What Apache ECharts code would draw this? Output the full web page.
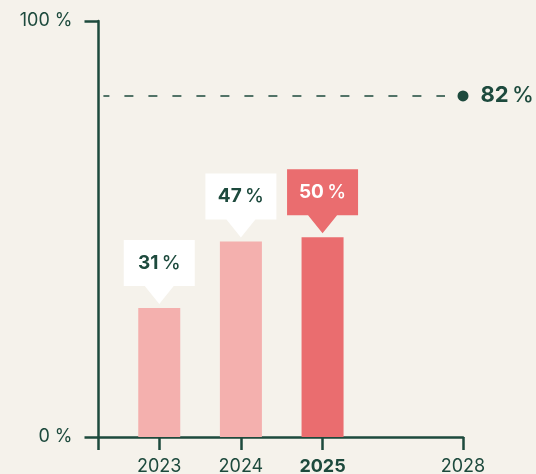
<!DOCTYPE html>
<html>
<head>
<meta charset="utf-8">
<script src="https://cdn.jsdelivr.net/npm/echarts@6/dist/echarts.min.js"></script>
<style>
  html, body { margin: 0; background: #f5f2eb; }
  #chart { width: 536px; height: 474px; }
</style>
</head>
<body>
<div id="chart"></div>
<script>
// x tick labels and where they sit on the (uneven) time axis
var years = ['2023', '2024', '2025', '2028'];
var yearPos = [1, 2, 3, 4.72];
var xMin = 0.256;

// bars
var barPos = [1, 2, 3];
var barValues = [31, 47, 48];
var labelValues = [31, 47, 50];
var highlight = [false, false, true];

// target
var targetPos = 4.72;
var targetValue = 82;

var dark = '#1d4a3d';
var light = '#f4b0ae';
var red = '#ea6d6f';
var font = 'Inter';

var myChart = echarts.init(document.getElementById('chart'));

var barData = barPos.map(function (x, i) {
    return {
        value: [x, barValues[i]],
        itemStyle: { color: highlight[i] ? red : light }
    };
});

var calloutData = barPos.map(function (x, i) {
    return {
        value: [x, barValues[i]],
        name: String(labelValues[i]),
        itemStyle: { color: highlight[i] ? red : '#ffffff', opacity: 1 },
        label: {
            rich: {
                n: { color: highlight[i] ? '#ffffff' : dark },
                p: { color: highlight[i] ? '#ffffff' : dark }
            }
        }
    };
});

var option = {
    backgroundColor: '#f5f2eb',
    animation: false,
    grid: { left: 98.5, right: 73, top: 21, bottom: 37, outerBoundsMode: 'none' },
    xAxis: {
        type: 'value',
        min: xMin,
        max: yearPos[3],
        splitLine: { show: false },
        axisLine: { show: true, onZero: false, lineStyle: { color: dark, width: 2.5 } },
        axisTick: {
            show: true,
            length: 13,
            customValues: [xMin].concat(yearPos),
            lineStyle: { color: dark, width: 2.5 }
        },
        axisLabel: {
            customValues: yearPos,
            margin: 21,
            fontFamily: font,
            fontSize: 18,
            color: dark,
            formatter: function (v) {
                var i = yearPos.indexOf(v);
                if (i < 0) return '';
                return years[i] === '2025' ? '{b|' + years[i] + '}' : years[i];
            },
            rich: { b: { fontWeight: 700, fontFamily: font, fontSize: 18, color: dark } }
        }
    },
    yAxis: {
        type: 'value',
        min: 0,
        max: 100,
        interval: 100,
        splitLine: { show: false },
        axisLine: { show: true, onZero: false, lineStyle: { color: dark, width: 2.5 } },
        axisTick: { show: true, length: 14, lineStyle: { color: dark, width: 2.5 } },
        axisLabel: {
            margin: 26,
            fontFamily: font,
            fontSize: 18,
            color: dark,
            formatter: '{value} %'
        }
    },
    series: [
        {
            type: 'bar',
            barWidth: 42,
            data: barData
        },
        {
            type: 'scatter',
            clip: false,
            z: 5,
            symbol: 'path://M0,0 L71,0 L71,46 L50,46 L35.5,64 L21,46 L0,46 Z',
            symbolSize: [71, 64],
            symbolOffset: [0, -36],
            itemStyle: { opacity: 1 },
            data: calloutData,
            label: {
                show: true,
                position: 'inside',
                offset: [0, -9],
                formatter: '{n|{b}} {p|%}',
                rich: {
                    n: { fontFamily: font, fontSize: 19, fontWeight: 700 },
                    p: { fontFamily: font, fontSize: 19, fontWeight: 500 }
                }
            }
        },
        {
            type: 'scatter',
            clip: false,
            symbol: 'circle',
            symbolSize: 11,
            itemStyle: { color: dark, opacity: 1 },
            data: [[targetPos, targetValue]],
            label: {
                show: true,
                position: 'right',
                distance: 12,
                formatter: function (p) { return '{n|' + p.value[1] + '} {p|%}'; },
                rich: {
                    n: { fontFamily: font, fontSize: 22, fontWeight: 700, color: dark },
                    p: { fontFamily: font, fontSize: 22, fontWeight: 500, color: dark }
                }
            },
            markLine: {
                silent: true,
                symbol: 'none',
                label: { show: false },
                lineStyle: { color: dark, width: 1.5, opacity: 1, type: [9, 15], dashOffset: 3 },
                data: [[
                    { coord: [xMin + 0.06, targetValue] },
                    { coord: [targetPos - 0.22, targetValue] }
                ]]
            }
        }
    ]
};

myChart.setOption(option);
</script>
</body>
</html>
